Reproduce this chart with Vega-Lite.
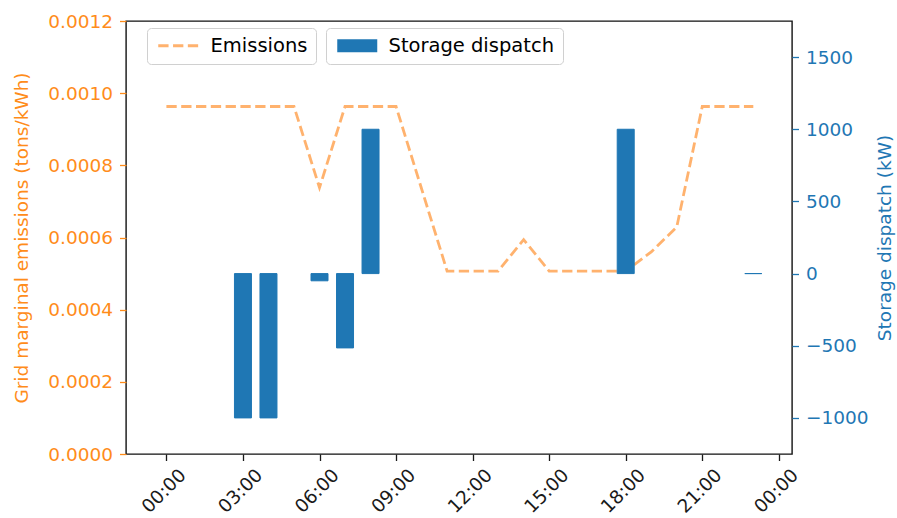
{
  "$schema": "https://vega.github.io/schema/vega-lite/v6.json",
  "autosize": {"type": "none"},
  "width": 666,
  "height": 433,
  "padding": {"left": 126, "top": 21, "right": 105, "bottom": 64},
  "background": "white",
  "config": {
    "font": "DejaVu Sans",
    "view": {"stroke": "#111111", "strokeWidth": 1.4},
    "axis": {"labelFontSize": 18.5, "titleFontSize": 18.5, "titleFontWeight": "normal", "grid": false, "domain": false, "tickSize": 6.5, "tickWidth": 1.3}
  },
  "datasets": {
    "emissions": [
      {"time": "2020-01-01T00:00", "emissions": 0.000963},
      {"time": "2020-01-01T01:00", "emissions": 0.000963},
      {"time": "2020-01-01T02:00", "emissions": 0.000963},
      {"time": "2020-01-01T03:00", "emissions": 0.000963},
      {"time": "2020-01-01T04:00", "emissions": 0.000963},
      {"time": "2020-01-01T05:00", "emissions": 0.000963},
      {"time": "2020-01-01T06:00", "emissions": 0.000738},
      {"time": "2020-01-01T07:00", "emissions": 0.000963},
      {"time": "2020-01-01T08:00", "emissions": 0.000963},
      {"time": "2020-01-01T09:00", "emissions": 0.000963},
      {"time": "2020-01-01T10:00", "emissions": 0.000735},
      {"time": "2020-01-01T11:00", "emissions": 0.000507},
      {"time": "2020-01-01T12:00", "emissions": 0.000507},
      {"time": "2020-01-01T13:00", "emissions": 0.000507},
      {"time": "2020-01-01T14:00", "emissions": 0.000594},
      {"time": "2020-01-01T15:00", "emissions": 0.000507},
      {"time": "2020-01-01T16:00", "emissions": 0.000507},
      {"time": "2020-01-01T17:00", "emissions": 0.000507},
      {"time": "2020-01-01T18:00", "emissions": 0.000507},
      {"time": "2020-01-01T19:00", "emissions": 0.000560},
      {"time": "2020-01-01T20:00", "emissions": 0.000629},
      {"time": "2020-01-01T21:00", "emissions": 0.000963},
      {"time": "2020-01-01T22:00", "emissions": 0.000963},
      {"time": "2020-01-01T23:00", "emissions": 0.000963}
    ],
    "dispatch": [
      {"time": "2020-01-01T03:00", "dispatch": -1000},
      {"time": "2020-01-01T04:00", "dispatch": -1000},
      {"time": "2020-01-01T06:00", "dispatch": -50},
      {"time": "2020-01-01T07:00", "dispatch": -515},
      {"time": "2020-01-01T08:00", "dispatch": 1000},
      {"time": "2020-01-01T18:00", "dispatch": 1000},
      {"time": "2020-01-01T23:00", "dispatch": 0}
    ]
  },
  "encoding": {
    "x": {
      "field": "time", "type": "temporal",
      "scale": {"domain": [{"year": 2019, "month": 12, "date": 31, "hours": 22, "minutes": 25}, {"year": 2020, "month": 1, "date": 2, "hours": 0, "minutes": 31}], "nice": false, "padding": 0},
      "axis": {
        "title": null, "format": "%H:%M",
        "values": [
          {"year": 2020, "month": 1, "date": 1, "hours": 0},
          {"year": 2020, "month": 1, "date": 1, "hours": 3},
          {"year": 2020, "month": 1, "date": 1, "hours": 6},
          {"year": 2020, "month": 1, "date": 1, "hours": 9},
          {"year": 2020, "month": 1, "date": 1, "hours": 12},
          {"year": 2020, "month": 1, "date": 1, "hours": 15},
          {"year": 2020, "month": 1, "date": 1, "hours": 18},
          {"year": 2020, "month": 1, "date": 1, "hours": 21},
          {"year": 2020, "month": 1, "date": 2, "hours": 0}
        ],
        "labelAngle": -45, "labelAlign": "center", "labelBaseline": "middle",
        "labelPadding": 30, "labelOffset": -3, "labelColor": "#1a1a1a", "tickColor": "#1a1a1a"
      }
    }
  },
  "layer": [
    {
      "data": {"name": "emissions"},
      "mark": {"type": "line", "strokeWidth": 2.8, "strokeDash": [10.3, 4.5], "opacity": 0.6},
      "encoding": {
        "y": {
          "field": "emissions", "type": "quantitative",
          "scale": {"domain": [0, 0.0012], "nice": false, "zero": false},
          "axis": {
            "orient": "left", "title": "Grid marginal emissions (tons/kWh)",
            "values": [0, 0.0002, 0.0004, 0.0006, 0.0008, 0.001, 0.0012], "format": ".4f",
            "labelColor": "#ff8c1a", "tickColor": "#ff8c1a", "titleColor": "#ff8c1a",
            "labelPadding": 7, "titlePadding": 16
          }
        },
        "stroke": {
          "datum": "Emissions", "type": "nominal",
          "scale": {"range": ["#ff7f0e"]},
          "legend": {
            "title": null, "orient": "none", "legendX": 21, "legendY": 7,
            "symbolType": "M-1,0H5.154", "symbolSize": 169, "symbolStrokeWidth": 2.8,
            "symbolDash": [10.3, 4.5], "symbolOpacity": 0.6,
            "labelFontSize": 19.5, "labelColor": "#000000", "labelOffset": 36, "labelLimit": 400,
            "padding": 8, "strokeColor": "#d0d0d0", "fillColor": "white", "cornerRadius": 4
          }
        }
      }
    },
    {
      "data": {"name": "dispatch"},
      "mark": {"type": "bar", "size": 17, "stroke": "#1f77b4", "strokeWidth": 1},
      "encoding": {
        "y": {
          "field": "dispatch", "type": "quantitative", "stack": null,
          "scale": {"domain": [-1250, 1750], "nice": false},
          "axis": {
            "orient": "right", "title": "Storage dispatch (kW)", "titleAngle": -90,
            "values": [-1000, -500, 0, 500, 1000, 1500], "format": "d",
            "labelColor": "#1f77b4", "tickColor": "#1f77b4", "titleColor": "#1f77b4",
            "labelPadding": 7, "titlePadding": 26
          }
        },
        "fill": {
          "datum": "Storage dispatch", "type": "nominal",
          "scale": {"range": ["#1f77b4"]},
          "legend": {
            "title": null, "orient": "none", "legendX": 200, "legendY": 7,
            "symbolType": "M-1,-1H5.154V1H-1Z", "symbolSize": 169, "symbolStrokeWidth": 0,
            "labelFontSize": 19.5, "labelColor": "#000000", "labelOffset": 35, "labelLimit": 400,
            "padding": 8, "strokeColor": "#d0d0d0", "fillColor": "white", "cornerRadius": 4
          }
        }
      }
    }
  ],
  "resolve": {"scale": {"y": "independent"}}
}
